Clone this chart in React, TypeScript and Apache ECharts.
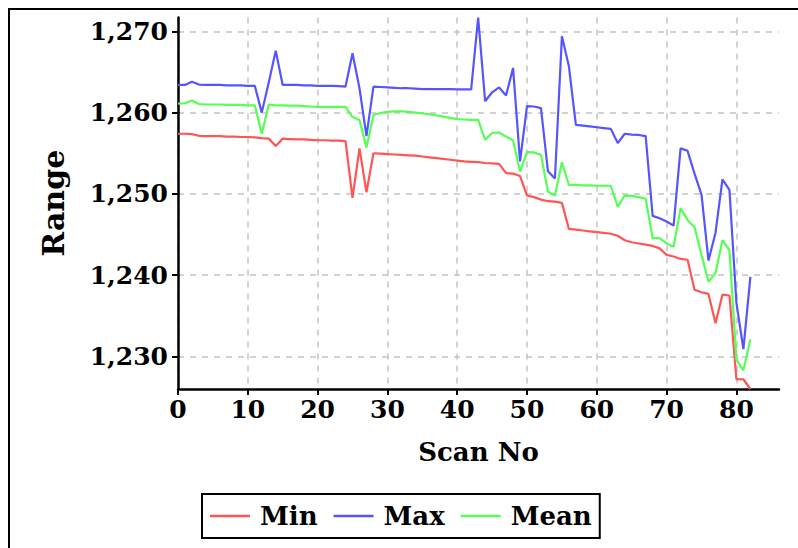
import React, { useEffect, useRef } from "react";
import * as echarts from "echarts";

const scanNo = [
  0, 1, 2, 3, 4, 5, 6, 7, 8, 9, 10, 11, 12, 13, 14, 15, 16, 17, 18, 19, 20,
  21, 22, 23, 24, 25, 26, 27, 28, 29, 30, 31, 32, 33, 34, 35, 36, 37, 38, 39, 40,
  41, 42, 43, 44, 45, 46, 47, 48, 49, 50, 51, 52, 53, 54, 55, 56, 57, 58, 59, 60,
  61, 62, 63, 64, 65, 66, 67, 68, 69, 70, 71, 72, 73, 74, 75, 76, 77, 78, 79, 80,
  81, 82,
];

const minValues = [
  1257.4, 1257.4, 1257.35, 1257.15, 1257.1, 1257.1, 1257.1, 1257.05, 1257.05, 1257.0,
  1257.0, 1256.95, 1256.85, 1256.8, 1255.9, 1256.8, 1256.75, 1256.7, 1256.7, 1256.65,
  1256.6, 1256.6, 1256.55, 1256.55, 1256.5, 1249.5, 1255.6, 1250.2, 1255.0, 1254.95,
  1254.9, 1254.85, 1254.8, 1254.75, 1254.7, 1254.6, 1254.5, 1254.4, 1254.3, 1254.2,
  1254.1, 1254.0, 1253.95, 1253.9, 1253.8, 1253.75, 1253.7, 1252.55, 1252.5, 1252.2,
  1249.8, 1249.6, 1249.3, 1249.1, 1249.05, 1248.9, 1245.7, 1245.6, 1245.5, 1245.4,
  1245.3, 1245.2, 1245.1, 1244.85, 1244.3, 1244.05, 1243.9, 1243.75, 1243.6, 1243.3,
  1242.5, 1242.3, 1242.0, 1241.9, 1238.2, 1237.9, 1237.7, 1234.1, 1237.6, 1237.5,
  1227.2, 1227.2, 1226.0,
];

const maxValues = [
  1263.4, 1263.4, 1263.8, 1263.45, 1263.4, 1263.4, 1263.4, 1263.35, 1263.35, 1263.35,
  1263.3, 1263.3, 1260.0, 1263.7, 1267.6, 1263.4, 1263.4, 1263.4, 1263.35, 1263.35,
  1263.3, 1263.3, 1263.3, 1263.25, 1263.2, 1267.3, 1263.0, 1257.1, 1263.2, 1263.15,
  1263.1, 1263.05, 1263.0, 1263.0, 1262.95, 1262.9, 1262.9, 1262.9, 1262.9, 1262.9,
  1262.85, 1262.85, 1262.85, 1271.7, 1261.4, 1262.5, 1263.1, 1262.1, 1265.5, 1254.0,
  1260.8, 1260.75, 1260.55, 1252.8, 1251.9, 1269.4, 1265.7, 1258.5, 1258.4, 1258.3,
  1258.2, 1258.1, 1258.0, 1256.25, 1257.4, 1257.3, 1257.25, 1257.1, 1247.3, 1247.0,
  1246.6, 1246.1, 1255.6, 1255.3, 1252.5, 1249.9, 1241.8, 1245.2, 1251.8, 1250.5,
  1236.6, 1230.9, 1239.8,
];

const meanValues = [
  1261.1, 1261.15, 1261.5, 1261.05, 1261.0, 1261.0, 1261.0, 1260.95, 1260.95, 1260.95,
  1260.9, 1260.9, 1257.4, 1261.0, 1260.9, 1260.9, 1260.85, 1260.85, 1260.8, 1260.75,
  1260.7, 1260.7, 1260.7, 1260.7, 1260.7, 1259.45, 1259.1, 1255.7, 1259.7, 1259.95,
  1260.1, 1260.15, 1260.15, 1260.1, 1260.0, 1259.9, 1259.8, 1259.65, 1259.5, 1259.35,
  1259.2, 1259.15, 1259.1, 1259.1, 1256.65, 1257.5, 1257.55, 1257.05, 1256.6, 1252.75,
  1255.15, 1255.1, 1254.8, 1250.3, 1249.8, 1253.9, 1251.1, 1251.1, 1251.05, 1251.05,
  1251.0, 1251.0, 1251.0, 1248.4, 1249.8, 1249.75, 1249.6, 1249.4, 1244.55, 1244.55,
  1243.9, 1243.5, 1248.25, 1246.8, 1245.9, 1242.5, 1239.2, 1240.25, 1244.3, 1243.1,
  1229.6, 1228.3, 1232.1,
];

const xTicks = [0, 10, 20, 30, 40, 50, 60, 70, 80];
const yTicks = [1230, 1240, 1250, 1260, 1270];

const seriesNames = ["Min", "Max", "Mean"];
const seriesColors = ["#ff5555", "#5555ff", "#55ff55"];

const FONT = "DejaVu Serif";

export default function App() {
  const ref = useRef<HTMLDivElement>(null);

  useEffect(() => {
    document.documentElement.style.overflow = "hidden";
    if (!ref.current) return;
    const chart = echarts.init(ref.current, null, { renderer: "svg" });
    const lists = [minValues, maxValues, meanValues];
    chart.setOption({
      animation: false,
      textStyle: { fontFamily: FONT, fontWeight: "bold", color: "#000" },
      grid: { left: 168, top: 7.5, width: 601, height: 371.5 },
      legend: {
        left: 192,
        top: 484,
        orient: "horizontal",
        data: seriesNames,
        icon: "rect",
        borderColor: "#000",
        borderWidth: 2,
        padding: [9, 8, 9, 8],
        itemWidth: 40,
        itemHeight: 2.5,
        itemGap: 16,
        textStyle: {
          fontFamily: FONT,
          fontWeight: "bold",
          fontSize: 26,
          color: "#000",
          padding: [0, 0, 0, 5],
        },
      },
      xAxis: {
        type: "value",
        min: 0,
        max: 86.1,
        name: "Scan No",
        nameLocation: "middle",
        nameGap: 50,
        nameTextStyle: { fontFamily: FONT, fontWeight: "bold", fontSize: 26, color: "#000" },
        axisLine: { show: true, onZero: false, lineStyle: { color: "#000", width: 2.5 } },
        axisTick: { show: true, length: 6, customValues: xTicks, lineStyle: { color: "#000", width: 2 } },
        axisLabel: {
          customValues: xTicks,
          margin: 8,
          fontFamily: FONT,
          fontWeight: "bold",
          fontSize: 25,
          color: "#000",
        },
        splitLine: { show: true, lineStyle: { color: "#c4c4c4", type: [6, 6], width: 1.5 } },
      },
      yAxis: {
        type: "value",
        min: "dataMin",
        max: "dataMax",
        name: "Range",
        nameLocation: "middle",
        nameGap: 110,
        nameTextStyle: { fontFamily: FONT, fontWeight: "bold", fontSize: 30, color: "#000" },
        axisLine: { show: true, lineStyle: { color: "#000", width: 2.5 } },
        axisTick: { show: true, length: 6, customValues: yTicks, lineStyle: { color: "#000", width: 2 } },
        axisLabel: {
          customValues: yTicks,
          margin: 10,
          fontFamily: FONT,
          fontWeight: "bold",
          fontSize: 25,
          color: "#000",
          formatter: (v: number) => v.toLocaleString("en-US"),
        },
        splitLine: { show: true, lineStyle: { color: "#c4c4c4", type: [6, 6], width: 1.5 } },
      },
      series: seriesNames.map((name, k) => ({
        name,
        type: "line",
        symbol: "none",
        color: seriesColors[k],
        lineStyle: { color: seriesColors[k], width: 2.2 },
        data: scanNo.map((x, i) => [x, lists[k][i]]),
      })),
    });
    return () => chart.dispose();
  }, []);

  return (
    <div
      style={{
        position: "fixed",
        left: 8,
        top: 8,
        width: 800,
        height: 560,
        border: "2px solid #000",
        background: "#fff",
      }}
    >
      <div ref={ref} style={{ width: 800, height: 560 }} />
    </div>
  );
}
